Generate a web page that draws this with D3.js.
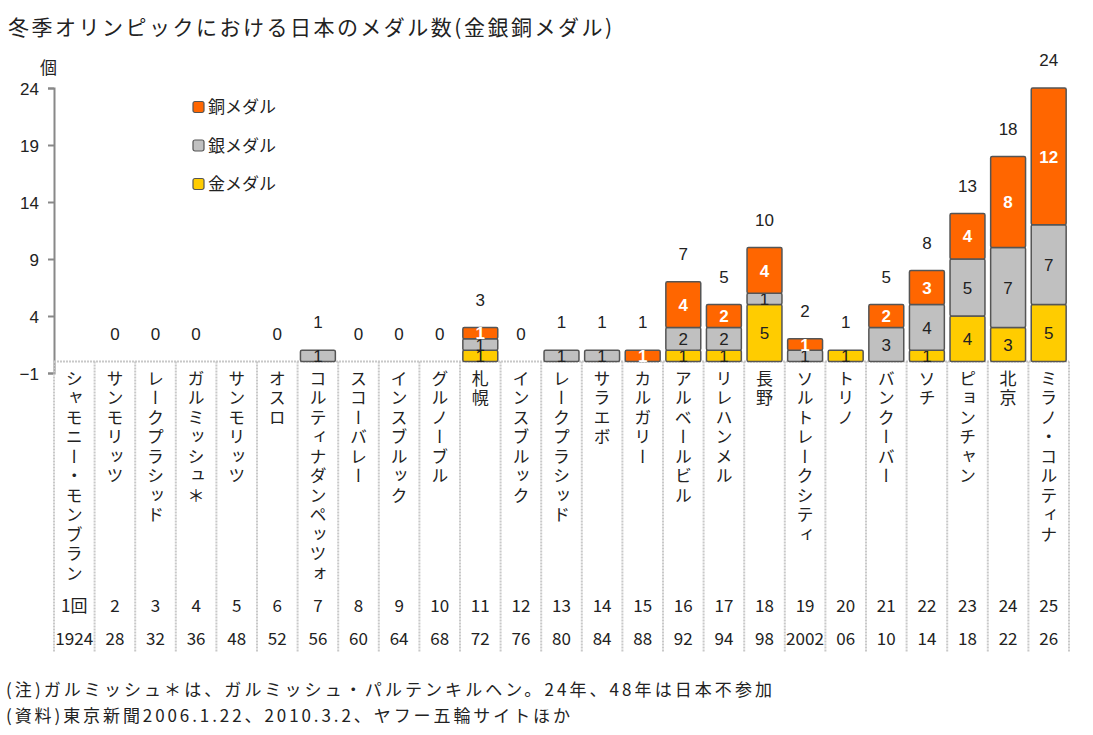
<!DOCTYPE html>
<html>
<head>
<meta charset="utf-8">
<script src="https://cdn.jsdelivr.net/npm/d3@7"></script>
<style>
  body { margin: 0; background: #fff; }
  svg text { font-family: "Noto Sans CJK JP", "Noto Sans", sans-serif; fill: #222; }
  svg text.num { font-family: "Liberation Sans", Arial, sans-serif; }
</style>
</head>
<body>
<div class="container"></div>
<script>
// data
var venues = ['シャモニー・モンブラン', 'サンモリッツ', 'レークプラシッド', 'ガルミッシュ＊', 'サンモリッツ',
  'オスロ', 'コルティナダンペッツォ', 'スコーバレー', 'インスブルック', 'グルノーブル', '札幌',
  'インスブルック', 'レークプラシッド', 'サラエボ', 'カルガリー', 'アルベールビル', 'リレハンメル',
  '長野', 'ソルトレークシティ', 'トリノ', 'バンクーバー', 'ソチ', 'ピョンチャン', '北京', 'ミラノ・コルティナ']
var editions = ['1回', '2', '3', '4', '5', '6', '7', '8', '9', '10', '11', '12', '13', '14', '15',
  '16', '17', '18', '19', '20', '21', '22', '23', '24', '25']
var years = ['1924', '28', '32', '36', '48', '52', '56', '60', '64', '68', '72', '76', '80', '84', '88',
  '92', '94', '98', '2002', '06', '10', '14', '18', '22', '26']
// null = Japan did not take part
var gold   = [null, 0, 0, 0, null, 0, 0, 0, 0, 0, 1, 0, 0, 0, 0, 1, 1, 5, 0, 1, 0, 1, 4, 3, 5]
var silver = [null, 0, 0, 0, null, 0, 1, 0, 0, 0, 1, 0, 1, 1, 0, 2, 2, 1, 1, 0, 3, 4, 5, 7, 7]
var bronze = [null, 0, 0, 0, null, 0, 0, 0, 0, 0, 1, 0, 0, 0, 1, 4, 2, 4, 1, 0, 2, 3, 4, 8, 12]
var yTicks = [-1, 4, 9, 14, 19, 24]

var medals = [
  {key: 'gold', label: '金メダル', values: gold, color: '#FFCC00', text: '#222', weight: 400},
  {key: 'silver', label: '銀メダル', values: silver, color: '#C0C0C0', text: '#222', weight: 400},
  {key: 'bronze', label: '銅メダル', values: bronze, color: '#FF6600', text: '#fff', weight: 700}
]

var width = 1093, height = 735
var svg = d3.select('.container').append('svg')
  .attr('width', width).attr('height', height)

var idx = d3.range(venues.length)
var col = d3.scaleBand().domain(idx).range([54, 1069])
var x = d3.scaleBand().domain(idx).range([54, 1069]).paddingInner(0.14).paddingOuter(0.07)
var y = d3.scaleLinear().domain([-1, 24]).range([373, 88])

svg.append('text').text('冬季オリンピックにおける日本のメダル数(金銀銅メダル)')
  .attr('x', 8).attr('y', 35).attr('font-size', 21).attr('textLength', 604)

svg.append('text').text('個').attr('x', 40).attr('y', 74).attr('font-size', 17)

// y axis
var yAxis = svg.append('g').attr('transform', 'translate(54,0)')
  .call(d3.axisLeft(y).tickValues(yTicks).tickSize(6).tickFormat(d => d < 0 ? '−' + (-d) : d))
yAxis.select('.domain').attr('stroke', '#888').attr('stroke-width', 2)
yAxis.selectAll('.tick line').attr('stroke', '#888').attr('stroke-width', 2)
yAxis.selectAll('.tick text').attr('class', 'num').attr('font-size', 17).attr('x', -15).attr('dy', '0.36em')

// category table
var tableTop = y(0), tableBottom = 652
svg.append('line')
  .attr('x1', col(0)).attr('x2', col(idx.length - 1) + col.bandwidth())
  .attr('y1', tableTop).attr('y2', tableTop)
  .attr('stroke', '#c8c8c8').attr('stroke-width', 2).attr('stroke-dasharray', '2,1')
svg.selectAll('line.div').data(d3.range(venues.length + 1)).join('line')
  .attr('x1', d => 54 + d * col.step()).attr('x2', d => 54 + d * col.step())
  .attr('y1', tableTop).attr('y2', tableBottom)
  .attr('stroke', '#c8c8c8').attr('stroke-width', 2).attr('stroke-dasharray', '2,1')

var cx = i => col(i) + col.bandwidth() / 2

svg.selectAll('text.venue').data(venues).join('text')
  .attr('class', 'venue')
  .attr('x', (d, i) => cx(i)).attr('y', 370)
  .style('writing-mode', 'vertical-rl')
  .attr('font-size', 17).attr('letter-spacing', 2.5)
  .text(d => d)

svg.selectAll('text.ed').data(editions).join('text')
  .attr('x', (d, i) => cx(i)).attr('y', 612)
  .attr('text-anchor', 'middle').attr('font-size', 17)
  .text(d => d)

svg.selectAll('text.yr').data(years).join('text')
  .attr('x', (d, i) => cx(i)).attr('y', 645)
  .attr('text-anchor', 'middle').attr('font-size', 17)
  .attr('textLength', d => d.length == 4 ? 38 : null)
  .attr('lengthAdjust', 'spacingAndGlyphs')
  .text(d => d)

// stacked bars
var rows = idx.map(i => ({i, gold: gold[i] || 0, silver: silver[i] || 0, bronze: bronze[i] || 0}))
var series = d3.stack().keys(medals.map(m => m.key))(rows)

series.forEach((s, k) => {
  var m = medals[k]
  var segs = s.filter(d => d[1] > d[0])
  svg.append('g').selectAll('rect').data(segs).join('rect')
    .attr('x', d => x(d.data.i)).attr('width', x.bandwidth())
    .attr('y', d => y(d[1])).attr('height', d => y(d[0]) - y(d[1]))
    .attr('fill', m.color).attr('stroke', '#555').attr('stroke-width', 1.5)
    .attr('rx', 1.5)
  svg.append('g').selectAll('text').data(segs).join('text')
    .attr('class', 'num')
    .attr('x', d => x(d.data.i) + x.bandwidth() / 2)
    .attr('y', d => (y(d[0]) + y(d[1])) / 2)
    .attr('dy', '0.36em').attr('text-anchor', 'middle')
    .attr('font-size', 17).attr('font-weight', m.weight)
    .style('fill', m.text)
    .text(d => d[1] - d[0])
})

// totals above bars
var totals = idx.filter(i => gold[i] != null)
svg.selectAll('text.total').data(totals).join('text')
  .attr('class', 'num')
  .attr('x', i => cx(i))
  .attr('y', i => y(gold[i] + silver[i] + bronze[i]) - 28)
  .attr('dy', '0.36em').attr('text-anchor', 'middle').attr('font-size', 17)
  .text(i => gold[i] + silver[i] + bronze[i])

// legend
var legend = svg.append('g').selectAll('g').data(medals.slice().reverse()).join('g')
  .attr('transform', (d, i) => `translate(193,${107 + i * 38.5})`)
legend.append('rect')
  .attr('x', 0).attr('y', -5.5).attr('width', 11).attr('height', 11).attr('rx', 2)
  .attr('fill', d => d.color).attr('stroke', '#555').attr('stroke-width', 1.2)
legend.append('text')
  .attr('x', 15).attr('dy', '0.36em').attr('font-size', 17)
  .text(d => d.label)

// notes
svg.append('text').text('(注)ガルミッシュ＊は、ガルミッシュ・パルテンキルヘン。24年、48年は日本不参加')
  .attr('x', 6).attr('y', 696).attr('font-size', 17).attr('textLength', 766)
svg.append('text').text('(資料)東京新聞2006.1.22、2010.3.2、ヤフー五輪サイトほか')
  .attr('x', 6).attr('y', 722).attr('font-size', 17).attr('textLength', 564)
</script>
</body>
</html>
